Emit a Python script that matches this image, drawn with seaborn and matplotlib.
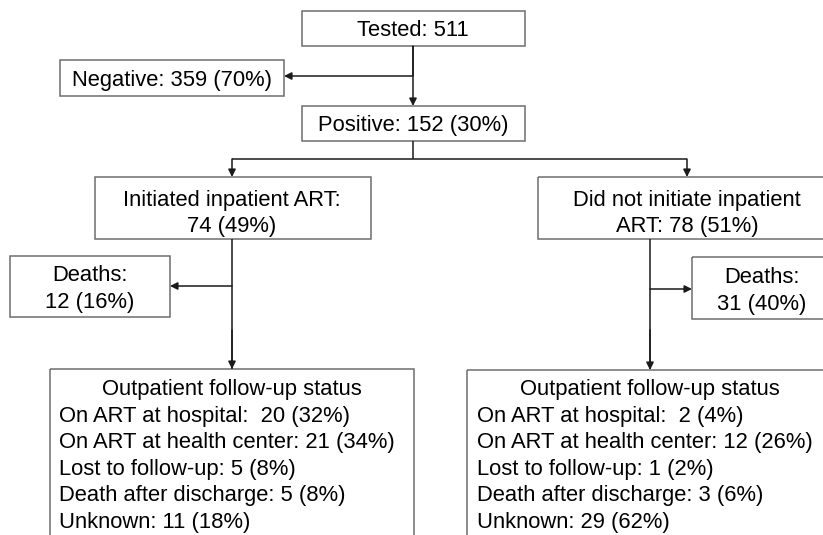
import matplotlib
matplotlib.use("Agg")
import matplotlib.pyplot as plt
import seaborn as sns
from matplotlib.patches import Rectangle

# counts
tested = 511
negative = (359, 70)
positive = (152, 30)
art_arms = ["Initiated inpatient ART:", "Did not initiate inpatient\nART:"]
art_counts = [(74, 49), (78, 51)]
death_counts = [(12, 16), (31, 40)]
status_labels = ["On ART at hospital:  ", "On ART at health center: ",
                 "Lost to follow-up: ", "Death after discharge: ", "Unknown: "]
status_left = [(20, 32), (21, 34), (5, 8), (5, 8), (11, 18)]
status_right = [(2, 4), (12, 26), (1, 2), (3, 6), (29, 62)]

sns.set_theme(style="white")
plt.rcParams["font.family"] = ["Liberation Sans", "DejaVu Sans"]
plt.rcParams["text.color"] = "black"

BOX_EC = "#6e6e6e"
LINE_C = "#1a1a1a"
FS = 15.8
BL = 7.6  # offset from visual line centre to baseline (px)


def box(ax, x0, y0, x1, y1):
   ax.add_patch(Rectangle((x0, y0), x1 - x0, y1 - y0, fill=False,
                          edgecolor=BOX_EC, lw=1.1, clip_on=False))


def line(ax, xs, ys):
   ax.plot(xs, ys, color=LINE_C, lw=1.1, solid_capstyle="butt")


def arrow(ax, x0, y0, x1, y1):
   ax.annotate("", xy=(x1, y1), xytext=(x0, y0),
               arrowprops=dict(arrowstyle="-|>", color=LINE_C, lw=1.1,
                               mutation_scale=11, shrinkA=0, shrinkB=0))


def label(ax, x, y, s, ha="center"):
   ax.text(x, y + BL, s, ha=ha, va="baseline", fontsize=FS)


def pct(v):
   return f"{v[0]} ({v[1]}%)"


fig = plt.figure(figsize=(8.23, 5.35), dpi=100)
ax = fig.add_axes([0, 0, 1, 1])
ax.set_xlim(0, 823)
ax.set_ylim(535, 0)
ax.axis("off")

# top part
box(ax, 302, 11, 525, 46)
label(ax, 413, 28.5, f"Tested: {tested}")
box(ax, 60, 60, 284, 96)
label(ax, 172, 78, f"Negative: {pct(negative)}")
box(ax, 302, 106, 525, 141)
label(ax, 413, 123.5, f"Positive: {pct(positive)}")

arrow(ax, 413, 46, 413, 106)
line(ax, [413, 413], [46, 76])
arrow(ax, 413, 76, 284, 76)

# branch to the two ART arms
line(ax, [413, 413], [141, 159])
line(ax, [232, 687], [159, 159])
arrow(ax, 232, 159, 232, 177)
arrow(ax, 687, 159, 687, 177)

# ART arm boxes
box(ax, 95, 177, 371, 239)
box(ax, 538, 177, 840, 239)
label(ax, 232, 198, art_arms[0])
label(ax, 232, 224, pct(art_counts[0]))
arm2 = art_arms[1].split("\n")
label(ax, 687, 198, arm2[0])
label(ax, 687, 224, arm2[1] + " " + pct(art_counts[1]))

# deaths
line(ax, [232, 232], [239, 369])
line(ax, [650, 650], [239, 369])
box(ax, 10, 256, 170, 317)
arrow(ax, 232, 286, 170, 286)
label(ax, 90, 273, "Deaths:")
label(ax, 90, 300, pct(death_counts[0]))
box(ax, 692, 257, 840, 319)
arrow(ax, 650, 289, 692, 289)
label(ax, 762, 275, "Deaths:")
label(ax, 762, 302, pct(death_counts[1]))

# outpatient follow-up
arrow(ax, 232, 330, 232, 369)
arrow(ax, 650, 330, 650, 370)
box(ax, 50, 369, 414, 560)
box(ax, 467, 370, 840, 560)
for cx, tx, vals in [(232, 59, status_left), (650, 477, status_right)]:
   label(ax, cx, 387.5, "Outpatient follow-up status")
   for i, (lab, v) in enumerate(zip(status_labels, vals)):
      label(ax, tx, 414 + i * 26.5, lab + pct(v), ha="left")

fig.savefig("out.png", dpi=100, facecolor="white")
